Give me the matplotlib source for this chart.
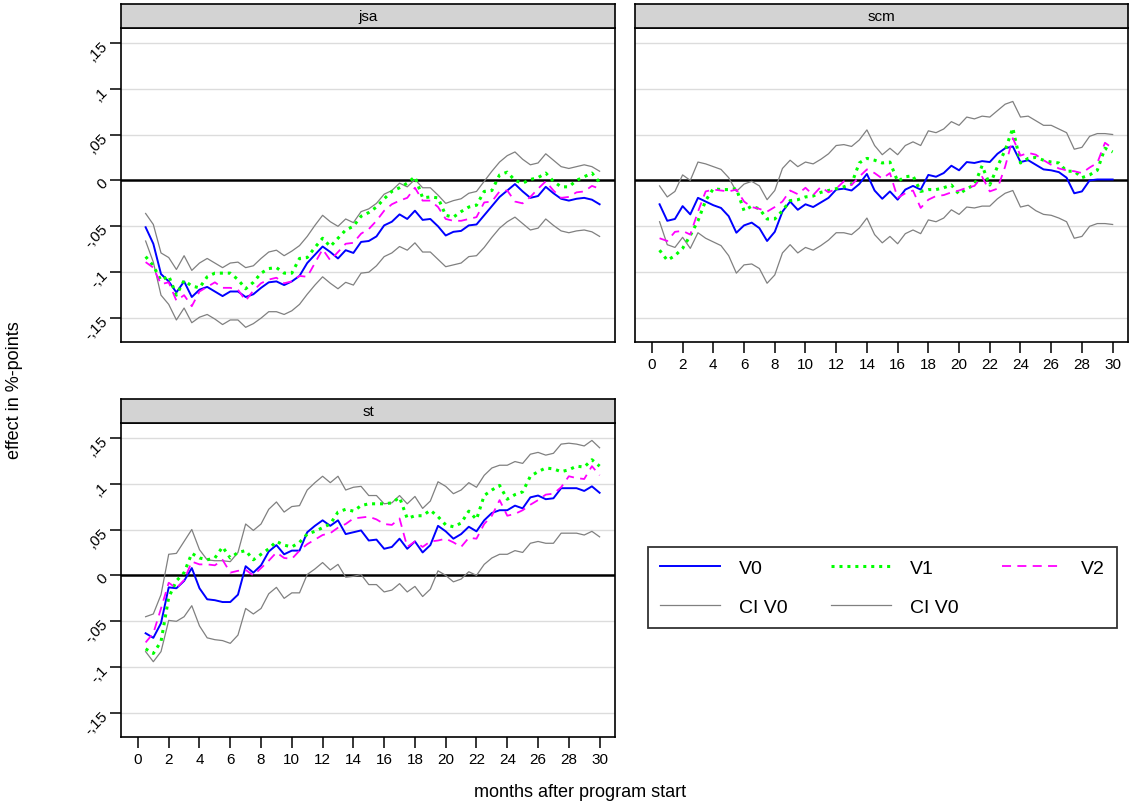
import matplotlib
matplotlib.use("Agg")
import matplotlib.pyplot as plt
from matplotlib.lines import Line2D

plt.rcParams['font.family'] = ['Liberation Sans', 'DejaVu Sans']

# months after program start, half-month steps
months = [0.5 * k for k in range(1, 61)]

# --- jsa ---
jsa_v0 = [-0.051, -0.069, -0.102, -0.110, -0.122, -0.110, -0.127, -0.119, -0.116, -0.121,
          -0.126, -0.121, -0.121, -0.127, -0.124, -0.117, -0.111, -0.110, -0.114, -0.110,
          -0.104, -0.090, -0.081, -0.072, -0.078, -0.085, -0.076, -0.079, -0.067, -0.066,
          -0.061, -0.049, -0.045, -0.037, -0.042, -0.033, -0.043, -0.042, -0.050, -0.060,
          -0.056, -0.055, -0.049, -0.048, -0.038, -0.028, -0.018, -0.011, -0.004, -0.012,
          -0.019, -0.017, -0.007, -0.014, -0.020, -0.022, -0.020, -0.019, -0.021, -0.026]
jsa_hi = [-0.036, -0.048, -0.079, -0.084, -0.097, -0.082, -0.098, -0.090, -0.085, -0.090,
          -0.095, -0.090, -0.089, -0.095, -0.093, -0.085, -0.078, -0.076, -0.082, -0.077,
          -0.071, -0.061, -0.049, -0.038, -0.045, -0.050, -0.042, -0.046, -0.034, -0.031,
          -0.025, -0.015, -0.011, -0.003, -0.007, 0.001, -0.008, -0.008, -0.016, -0.025,
          -0.022, -0.020, -0.014, -0.012, -0.001, 0.010, 0.020, 0.027, 0.031, 0.023,
          0.017, 0.019, 0.029, 0.022, 0.015, 0.013, 0.015, 0.017, 0.015, 0.010]
jsa_lo = [-0.066, -0.089, -0.125, -0.135, -0.152, -0.139, -0.155, -0.149, -0.146, -0.151,
          -0.157, -0.152, -0.152, -0.160, -0.156, -0.150, -0.143, -0.143, -0.146, -0.142,
          -0.135, -0.124, -0.114, -0.105, -0.112, -0.118, -0.111, -0.114, -0.101, -0.100,
          -0.093, -0.083, -0.079, -0.072, -0.076, -0.068, -0.078, -0.078, -0.086, -0.094,
          -0.092, -0.090, -0.083, -0.082, -0.073, -0.062, -0.052, -0.045, -0.040, -0.047,
          -0.054, -0.052, -0.042, -0.049, -0.055, -0.057, -0.055, -0.054, -0.056, -0.061]
jsa_v1 = [-0.083, -0.093, -0.109, -0.104, -0.125, -0.109, -0.115, -0.117, -0.105, -0.101,
          -0.101, -0.101, -0.108, -0.118, -0.111, -0.101, -0.096, -0.095, -0.101, -0.101,
          -0.085, -0.084, -0.073, -0.063, -0.072, -0.063, -0.054, -0.050, -0.039, -0.035,
          -0.029, -0.020, -0.012, -0.008, -0.003, 0.004, -0.019, -0.018, -0.019, -0.038,
          -0.040, -0.034, -0.029, -0.027, -0.012, -0.011, 0.006, 0.009, 0.000, -0.003,
          0.001, 0.003, 0.008, -0.001, -0.007, -0.007, 0.000, 0.004, 0.008, -0.002]
jsa_v2 = [-0.089, -0.095, -0.113, -0.111, -0.131, -0.125, -0.137, -0.121, -0.116, -0.111,
          -0.117, -0.117, -0.119, -0.131, -0.120, -0.112, -0.108, -0.106, -0.112, -0.110,
          -0.104, -0.105, -0.090, -0.075, -0.087, -0.078, -0.069, -0.068, -0.058, -0.053,
          -0.044, -0.033, -0.026, -0.022, -0.019, -0.008, -0.022, -0.022, -0.029, -0.042,
          -0.044, -0.044, -0.042, -0.040, -0.024, -0.023, -0.012, -0.011, -0.023, -0.025,
          -0.018, -0.009, -0.001, -0.011, -0.019, -0.018, -0.013, -0.012, -0.006, -0.009]

# --- scm ---
scm_v0 = [-0.026, -0.044, -0.042, -0.028, -0.037, -0.019, -0.023, -0.027, -0.030, -0.039,
          -0.057, -0.049, -0.046, -0.052, -0.066, -0.056, -0.034, -0.023, -0.032, -0.026,
          -0.029, -0.024, -0.019, -0.010, -0.009, -0.011, -0.004, 0.007, -0.011, -0.020,
          -0.012, -0.021, -0.010, -0.006, -0.010, 0.006, 0.004, 0.008, 0.016, 0.011,
          0.020, 0.019, 0.021, 0.020, 0.029, 0.035, 0.037, 0.020, 0.022, 0.017,
          0.012, 0.011, 0.009, 0.003, -0.014, -0.012, 0.000, 0.001, 0.001, 0.001]
scm_hi = [-0.006, -0.018, -0.012, 0.006, 0.000, 0.020, 0.018, 0.015, 0.012, 0.003,
          -0.012, -0.004, -0.001, -0.006, -0.021, -0.011, 0.013, 0.022, 0.015, 0.020,
          0.018, 0.023, 0.029, 0.038, 0.039, 0.037, 0.044, 0.055, 0.038, 0.028,
          0.035, 0.028, 0.038, 0.042, 0.038, 0.054, 0.052, 0.056, 0.064, 0.060,
          0.069, 0.067, 0.070, 0.069, 0.076, 0.083, 0.086, 0.069, 0.070, 0.065,
          0.060, 0.060, 0.056, 0.052, 0.034, 0.036, 0.048, 0.051, 0.051, 0.050]
scm_lo = [-0.045, -0.070, -0.073, -0.062, -0.074, -0.057, -0.063, -0.067, -0.071, -0.082,
          -0.101, -0.092, -0.091, -0.096, -0.112, -0.103, -0.079, -0.070, -0.079, -0.073,
          -0.076, -0.071, -0.065, -0.057, -0.057, -0.059, -0.052, -0.041, -0.059, -0.068,
          -0.061, -0.069, -0.058, -0.054, -0.058, -0.043, -0.045, -0.041, -0.032, -0.037,
          -0.029, -0.030, -0.028, -0.028, -0.020, -0.014, -0.011, -0.029, -0.027, -0.033,
          -0.037, -0.038, -0.041, -0.045, -0.063, -0.061, -0.050, -0.047, -0.047, -0.048]
scm_v1 = [-0.076, -0.087, -0.082, -0.074, -0.060, -0.044, -0.022, -0.009, -0.010, -0.010,
          -0.009, -0.033, -0.028, -0.031, -0.042, -0.042, -0.033, -0.022, -0.021, -0.018,
          -0.017, -0.013, -0.011, -0.009, -0.007, -0.004, 0.019, 0.024, 0.022, 0.019,
          0.020, -0.001, 0.004, 0.005, -0.012, -0.010, -0.010, -0.008, -0.005, -0.015,
          -0.009, -0.005, 0.016, -0.005, 0.015, 0.033, 0.057, 0.019, 0.024, 0.025,
          0.022, 0.020, 0.019, 0.010, 0.010, 0.003, 0.006, 0.011, 0.035, 0.031]
scm_v2 = [-0.063, -0.066, -0.056, -0.055, -0.059, -0.034, -0.012, -0.010, -0.011, -0.012,
          -0.010, -0.023, -0.029, -0.031, -0.034, -0.029, -0.023, -0.011, -0.015, -0.008,
          -0.016, -0.007, -0.013, -0.009, -0.001, -0.005, 0.004, 0.012, 0.008, 0.002,
          0.008, -0.019, -0.014, -0.011, -0.030, -0.021, -0.017, -0.016, -0.013, -0.011,
          -0.008, -0.006, 0.004, -0.012, -0.009, 0.015, 0.046, 0.027, 0.030, 0.028,
          0.022, 0.017, 0.013, 0.011, 0.010, 0.008, 0.014, 0.019, 0.041, 0.035]

# --- st ---
st_v0 = [-0.063, -0.068, -0.052, -0.013, -0.014, -0.006, 0.008, -0.014, -0.026, -0.027,
         -0.029, -0.029, -0.021, 0.010, 0.003, 0.011, 0.026, 0.033, 0.023, 0.027,
         0.027, 0.047, 0.054, 0.060, 0.054, 0.060, 0.045, 0.047, 0.049, 0.038,
         0.039, 0.029, 0.031, 0.040, 0.029, 0.037, 0.025, 0.033, 0.054, 0.048,
         0.040, 0.045, 0.053, 0.048, 0.060, 0.068, 0.071, 0.071, 0.076, 0.073,
         0.085, 0.087, 0.083, 0.084, 0.095, 0.095, 0.095, 0.092, 0.097, 0.090]
st_hi = [-0.045, -0.042, -0.021, 0.023, 0.024, 0.037, 0.050, 0.028, 0.017, 0.016,
         0.016, 0.015, 0.025, 0.056, 0.049, 0.056, 0.072, 0.080, 0.069, 0.075,
         0.076, 0.093, 0.101, 0.108, 0.101, 0.108, 0.093, 0.096, 0.097, 0.087,
         0.087, 0.078, 0.079, 0.087, 0.078, 0.086, 0.073, 0.081, 0.102, 0.097,
         0.089, 0.093, 0.101, 0.096, 0.109, 0.117, 0.120, 0.120, 0.124, 0.122,
         0.132, 0.134, 0.131, 0.133, 0.143, 0.144, 0.143, 0.141, 0.147, 0.139]
st_lo = [-0.083, -0.094, -0.083, -0.049, -0.050, -0.045, -0.033, -0.055, -0.068, -0.070,
         -0.071, -0.074, -0.065, -0.036, -0.042, -0.036, -0.020, -0.013, -0.025, -0.019,
         -0.019, 0.001, 0.007, 0.014, 0.006, 0.012, -0.002, -0.001, 0.001, -0.010,
         -0.010, -0.018, -0.016, -0.009, -0.018, -0.012, -0.023, -0.015, 0.005, 0.000,
         -0.007, -0.004, 0.004, 0.000, 0.012, 0.019, 0.023, 0.023, 0.027, 0.025,
         0.035, 0.037, 0.035, 0.035, 0.046, 0.046, 0.046, 0.044, 0.048, 0.042]
st_v1 = [-0.080, -0.085, -0.072, -0.024, -0.006, 0.003, 0.024, 0.019, 0.017, 0.019,
         0.031, 0.019, 0.025, 0.027, 0.017, 0.023, 0.029, 0.037, 0.033, 0.031,
         0.036, 0.045, 0.048, 0.052, 0.056, 0.069, 0.072, 0.070, 0.076, 0.078,
         0.078, 0.078, 0.079, 0.085, 0.062, 0.065, 0.065, 0.071, 0.064, 0.055,
         0.053, 0.057, 0.070, 0.061, 0.087, 0.093, 0.098, 0.083, 0.088, 0.091,
         0.108, 0.113, 0.117, 0.116, 0.113, 0.115, 0.119, 0.118, 0.126, 0.119]
st_v2 = [-0.073, -0.063, -0.036, -0.008, -0.014, -0.005, 0.015, 0.012, 0.012, 0.011,
         0.017, 0.003, 0.005, 0.006, 0.000, 0.008, 0.016, 0.025, 0.019, 0.018,
         0.027, 0.034, 0.039, 0.044, 0.046, 0.052, 0.056, 0.062, 0.063, 0.064,
         0.061, 0.056, 0.055, 0.062, 0.031, 0.037, 0.031, 0.037, 0.038, 0.040,
         0.036, 0.031, 0.041, 0.040, 0.056, 0.065, 0.082, 0.065, 0.067, 0.071,
         0.077, 0.082, 0.088, 0.089, 0.096, 0.108, 0.106, 0.105, 0.119, 0.109]

panels = ['jsa', 'scm', 'st']
series = {
    'jsa': (jsa_v0, jsa_v1, jsa_v2, jsa_hi, jsa_lo),
    'scm': (scm_v0, scm_v1, scm_v2, scm_hi, scm_lo),
    'st': (st_v0, st_v1, st_v2, st_hi, st_lo),
}
yticks = [-0.15, -0.1, -0.05, 0, 0.05, 0.1, 0.15]
ytick_labels = ['-,15', '-,1', '-,05', '0', ',05', ',1', ',15']
xticks = list(range(0, 31, 2))

W, H = 1129, 804
fig = plt.figure(figsize=(W / 100, H / 100), dpi=100)


def rect(l, t, r, b):
    return [l / W, 1 - b / H, (r - l) / W, (b - t) / H]


# pixel boxes: (left, strip top, right, plot top, plot bottom)
boxes = {
    'jsa': (121, 5, 615, 29, 343),
    'scm': (635, 5, 1128, 29, 343),
    'st': (121, 400, 615, 424, 738),
}

V0_STYLE = dict(color='#0000ff', lw=1.4)
V1_STYLE = dict(color='#00ff00', lw=2.2, linestyle=(0, (1, 1.6)))
V2_STYLE = dict(color='#ff00ff', lw=1.3, linestyle=(0, (5, 3.5)))
CI_STYLE = dict(color='#808080', lw=0.9)

for name in panels:
    l, st_top, r, top, bot = boxes[name]
    ax = fig.add_axes(rect(l, top, r, bot))
    v0, v1, v2, hi, lo = series[name]

    for yv in yticks:
        if yv != 0:
            ax.axhline(yv, color='#dcdcdc', lw=1.0, zorder=0)
    ax.axhline(0, color='black', lw=1.8, zorder=1)

    ax.plot(months, hi, zorder=2, **CI_STYLE)
    ax.plot(months, lo, zorder=2, **CI_STYLE)
    ax.plot(months, v0, zorder=3, **V0_STYLE)
    ax.plot(months, v1, zorder=4, **V1_STYLE)
    ax.plot(months, v2, zorder=5, **V2_STYLE)

    ax.set_xlim(-1.1, 31.0)
    ax.set_ylim(-0.176, 0.166)

    for sp in ax.spines.values():
        sp.set_linewidth(1.2)

    ax.tick_params(direction='out', length=8, width=1.1, labelsize=11, pad=3)
    if name in ('jsa', 'st'):
        ax.set_yticks(yticks)
        ax.set_yticklabels(ytick_labels, rotation=45, ha='right', va='center',
                           rotation_mode='anchor')
    else:
        ax.set_yticks([])
    if name in ('scm', 'st'):
        ax.set_xticks(xticks)
        ax.set_xticklabels([str(t) for t in xticks])
    else:
        ax.set_xticks([])

    # facet strip
    sax = fig.add_axes(rect(l, st_top, r, top))
    sax.set_facecolor('#d3d3d3')
    sax.set_xticks([])
    sax.set_yticks([])
    for sp in sax.spines.values():
        sp.set_linewidth(1.2)
    sax.text(0.5, 0.5, name, ha='center', va='center', fontsize=11,
             transform=sax.transAxes)

fig.text(15 / W, 1 - 390 / H, 'effect in %-points', rotation=90,
         ha='center', va='center', fontsize=13)
fig.text(580 / W, 1 - 793 / H, 'months after program start',
         ha='center', va='center', fontsize=13)

handles = [
    Line2D([], [], **V0_STYLE),
    Line2D([], [], **CI_STYLE),
    Line2D([], [], **V1_STYLE),
    Line2D([], [], **CI_STYLE),
    Line2D([], [], **V2_STYLE),
]
labels = ['V0', 'CI V0', 'V1', 'CI V0', 'V2']
lx0, ly0, lx1, ly1 = 648, 544, 1117, 629
leg = fig.legend(handles, labels, ncol=3, loc='lower left',
                 bbox_to_anchor=(lx0 / W, 1 - ly1 / H, (lx1 - lx0) / W, (ly1 - ly0) / H),
                 mode='expand', fontsize=14, frameon=True, fancybox=False,
                 edgecolor='black', handlelength=3.1, handletextpad=0.95,
                 borderaxespad=0, labelspacing=1.1, borderpad=0.62)
leg.get_frame().set_linewidth(1.3)

fig.savefig('out.png', dpi=100)
